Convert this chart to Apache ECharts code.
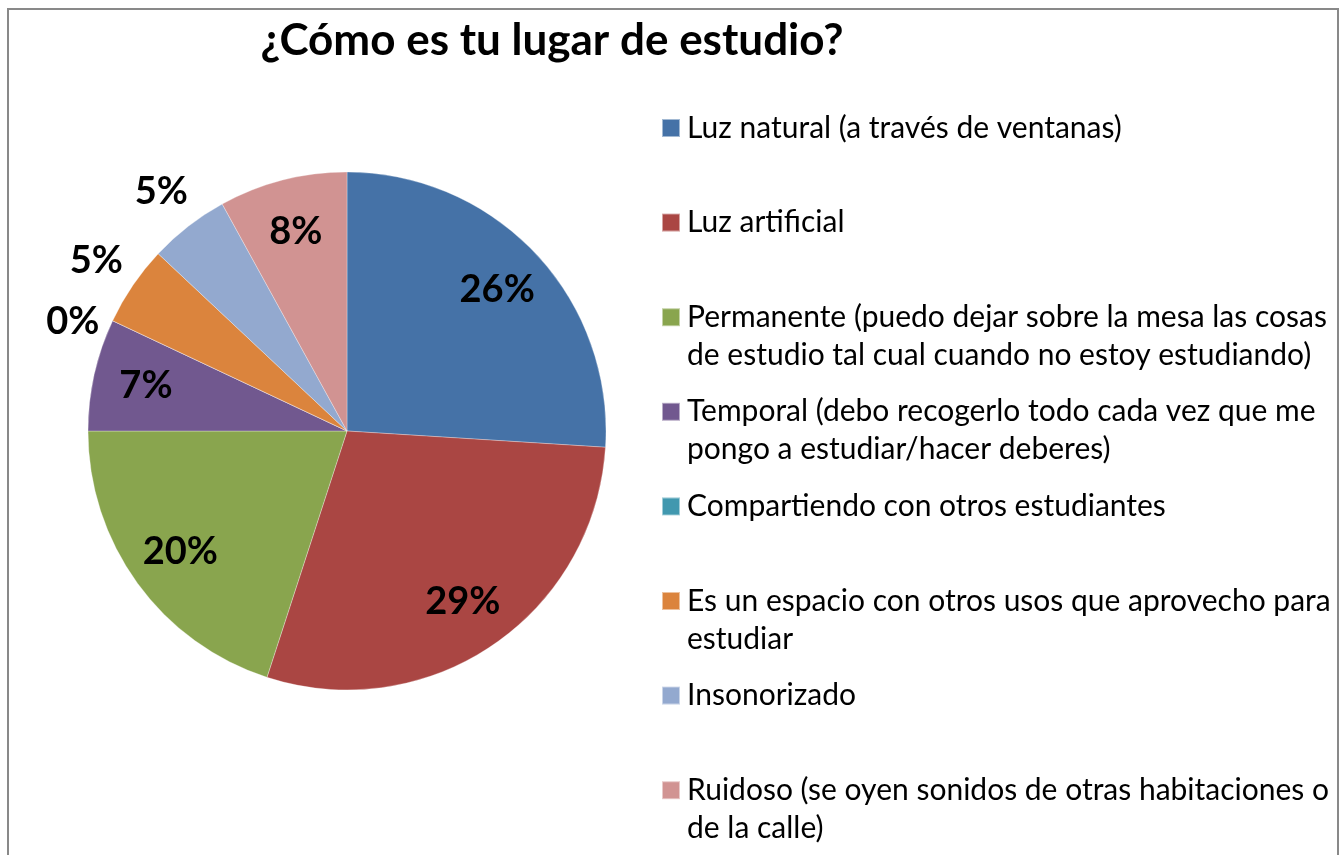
<!DOCTYPE html>
<html>
<head>
<meta charset="utf-8">
<script src="https://cdn.jsdelivr.net/npm/echarts@6/dist/echarts.min.js"></script>
<style>
  html, body { margin: 0; padding: 0; background: #fff; }
  #main { width: 1339px; height: 855px; }
</style>
</head>
<body>
<div id="main"></div>
<script>
// datos
var categorias = [
  'Luz natural (a través de ventanas)',
  'Luz artificial',
  'Permanente (puedo dejar sobre la mesa las cosas de estudio tal cual cuando no estoy estudiando)',
  'Temporal (debo recogerlo todo cada vez que me pongo a estudiar/hacer deberes)',
  'Compartiendo con otros estudiantes',
  'Es un espacio con otros usos que aprovecho para estudiar',
  'Insonorizado',
  'Ruidoso (se oyen sonidos de otras habitaciones o de la calle)'
];
var lineasLeyenda = [
  'Luz natural (a través de ventanas)',
  'Luz artificial',
  'Permanente (puedo dejar sobre la mesa las cosas\nde estudio tal cual cuando no estoy estudiando)',
  'Temporal (debo recogerlo todo cada vez que me\npongo a estudiar/hacer deberes)',
  'Compartiendo con otros estudiantes',
  'Es un espacio con otros usos que aprovecho para\nestudiar',
  'Insonorizado',
  'Ruidoso (se oyen sonidos de otras habitaciones o\nde la calle)'
];
var valores = [26, 29, 20, 7, 0, 5, 5, 8];
var etiquetaFuera = [false, false, false, false, true, true, true, false];

var colores = ['#4572A7', '#AA4643', '#89A54E', '#71588F', '#4198AF', '#DB843D', '#93A9CF', '#D19392'];

var dom = document.getElementById('main');
var myChart = echarts.init(dom);

var centro = [347, 431];
var R = 259;
var fuente = 'Lato';

// capa invisible solo para colocar las etiquetas
function capaEtiquetas(r0, r1, fuera) {
  return {
    type: 'pie',
    center: centro,
    radius: [r0, r1],
    startAngle: 90,
    silent: true,
    percentPrecision: 0,
    itemStyle: { color: 'rgba(0,0,0,0)' },
    labelLine: { show: false },
    emphasis: { disabled: true },
    label: {
      position: 'inside',
      formatter: '{d}%',
      fontFamily: fuente,
      fontWeight: 'bold',
      fontSize: 38,
      color: '#000'
    },
    // la etiqueta del 0% queda un poco más abajo en el original
    labelLayout: function (p) {
      return valores[p.dataIndex] === 0 ? { dy: 20 } : {};
    },
    data: categorias.map(function (n, i) {
      return { name: n, value: valores[i], label: { show: etiquetaFuera[i] === fuera } };
    })
  };
}

var leyendas = categorias.map(function (n, i) {
  var dosLineas = lineasLeyenda[i].indexOf('\n') >= 0;
  var y = 128 + i * 94.6;
  return {
    data: [n],
    orient: 'vertical',
    left: 661,
    top: y - (dosLineas ? 57 : 19),
    padding: 0,
    icon: 'rect',
    itemWidth: 18,
    itemHeight: 18,
    selectedMode: false,
    formatter: function () {
      return (dosLineas ? '\n' : '') + lineasLeyenda[i];
    },
    textStyle: {
      fontFamily: fuente,
      fontSize: 30,
      lineHeight: 38,
      color: '#000',
      padding: [0, 0, 0, 2]
    }
  };
});

option = {
  backgroundColor: '#fff',
  animation: false,
  color: colores,
  title: {
    text: '¿Cómo es tu lugar de estudio?',
    left: 552,
    top: 19,
    padding: 0,
    textAlign: 'center',
    textStyle: {
      fontFamily: fuente,
      fontWeight: 'bold',
      fontSize: 44,
      color: '#000'
    }
  },
  legend: leyendas,
  graphic: [{
    type: 'rect',
    silent: true,
    shape: { x: 8, y: 9, width: 1330, height: 900 },
    style: { fill: 'none', stroke: '#898989', lineWidth: 2 }
  }],
  series: [
    {
      type: 'pie',
      center: centro,
      radius: R,
      startAngle: 90,
      label: { show: false },
      labelLine: { show: false },
      emphasis: { scale: false },
      itemStyle: { borderColor: 'rgba(255,255,255,0.5)', borderWidth: 0.6 },
      data: categorias.map(function (n, i) {
        return { name: n, value: valores[i] };
      })
    },
    capaEtiquetas(147, R, false),
    capaEtiquetas(R, R + 82, true)
  ]
};

if (option && typeof option === 'object') {
  myChart.setOption(option, true);
}
</script>
</body>
</html>
